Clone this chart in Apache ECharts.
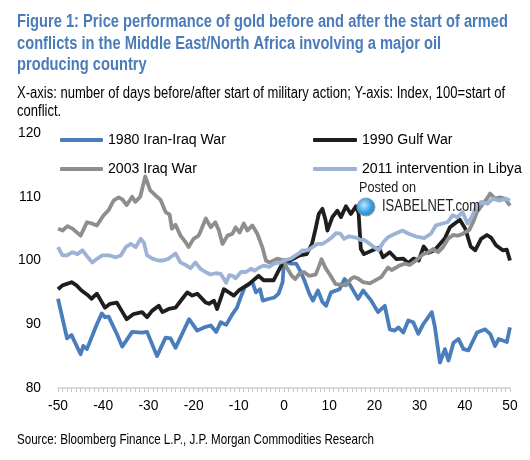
<!DOCTYPE html>
<html><head><meta charset="utf-8">
<script src="https://cdn.jsdelivr.net/npm/echarts@6/dist/echarts.min.js"></script>
<style>html,body{margin:0;padding:0;background:#fff}#c{width:530px;height:460px}</style>
</head><body><div id="c"></div>
<script>
// ---- data ----
const titleLines = ['Figure 1: Price performance of gold before and after the start of armed','conflicts in the Middle East/North Africa involving a major oil','producing country'];
const subtitleLines = ['X-axis: number of days before/after start of military action; Y-axis: Index, 100=start of','conflict.'];
const sourceText = 'Source: Bloomberg Finance L.P., J.P. Morgan Commodities Research';
const seriesNames = ['1980 Iran-Iraq War','1990 Gulf War','2003 Iraq War','2011 intervention in Libya'];

const iranDays = [-50,-48,-47,-45,-44.4,-43.6,-41.4,-40.3,-39.6,-38.8,-37,-35.8,-33.6,-31.4,-30.3,-28.1,-26.2,-25.1,-24,-21,-19.2,-17.7,-16.2,-15,-14,-12.8,-11.4,-10.4,-9.6,-8.7,-7,-6.2,-5.3,-4.7,-3.3,-2.1,-1.2,-0.3,0,1.5,2.7,3.5,4.5,5.6,6.4,7.5,8.5,9.3,10.4,12.3,13.4,14.5,16.4,17.5,19.3,20.8,22.3,23.4,24.5,25.3,26.4,27.5,28.6,29.7,30.8,32.7,33.4,34.5,35.6,36.4,37.5,38.6,39.7,40.8,42.7,44.5,45.6,46.7,47.5,49.3,50];
const iranVals = [94.0,87.8,88.3,85.3,86.6,86.1,90.0,91.7,91.1,91.2,88.5,86.5,88.8,88.7,88.8,85.0,87.9,87.8,86.3,90.8,89.0,89.5,89.8,88.8,90.3,89.9,91.6,92.6,94.2,95.8,96.6,95.0,95.5,93.7,94.0,94.2,94.8,96.6,100,99.5,99.5,98.5,96.9,94.8,93.7,95.3,93.5,92.9,95.0,95.5,97.1,96.3,94.0,95.3,93.7,91.9,92.9,89.2,89.0,89.5,88.7,90.6,90.3,88.5,90.0,91.9,89.5,84.0,86.1,84.3,87.1,87.7,86.1,85.9,88.7,89.2,88.5,86.6,87.7,87.2,89.5];

const gulfDays = [-50,-49,-47,-45.9,-44.8,-43.3,-42.6,-41.4,-39.6,-38.5,-37,-35.9,-34.8,-33.3,-31.4,-30.3,-29.2,-27.7,-26.9,-25.5,-24,-22.5,-21.4,-20.3,-19.2,-17.3,-16.6,-15.5,-14.8,-13.3,-12.2,-11.1,-10,-7.8,-5.6,-4.5,-2.3,-1.2,0,1.3,3.5,5,6.2,6.9,7.7,8.5,9.2,9.6,10.7,11.8,12.6,13.7,14.8,15.9,16.5,17,17.7,19.6,21,21.9,23.4,24.9,26.4,27.5,28.7,29.8,30.9,32,33.3,35.6,36.7,37.8,38.9,40.1,41.3,42.3,43.6,44.9,45.8,46.9,48.4,49.3,50];
const gulfVals = [95.5,96.1,96.6,96.1,95.3,94.5,94.0,94.8,92.6,93.2,93.4,92.1,90.8,91.6,91.9,91.1,92.1,92.9,91.9,92.4,92.6,94.0,95.0,94.5,94.8,93.4,93.2,93.7,92.4,95.5,95.0,94.5,95.3,96.3,97.6,96.9,96.9,98.4,100,100,100.8,101,102.6,104.7,107.3,108.1,106.3,104.7,106.8,107.8,106.8,108.5,107.3,108.5,107.5,101.8,101.0,101.6,102.0,100.5,101.3,100.2,100.3,99.6,100.3,100.0,102.2,101.2,101.6,103.5,105.2,105.8,106.4,105.0,102.2,101.6,103.4,104.0,103.6,102.4,101.6,101.7,100.0];

const iraqDays = [-50,-49,-47.9,-46.8,-45,-43.6,-42.5,-41.4,-39.9,-38.8,-37.7,-36.6,-35.8,-34.8,-33.6,-32.9,-31.8,-30.7,-29.6,-28.4,-27.3,-26.2,-25.3,-24.8,-24,-22.9,-21.8,-21.1,-20,-18.9,-18.5,-17.3,-16.2,-15.2,-14.4,-13.6,-12.5,-11.4,-10.7,-9.8,-8.9,-8.1,-7,-5.9,-4.8,-4,-3.3,-2.3,-1.5,0,0.6,1.7,2.5,3.5,4.4,5.5,7,7.8,8.3,9.2,10.3,11.4,12.5,13.7,14.8,15.5,16.3,17.5,19,20,21.5,23,23.8,24.8,25.5,26.7,27.8,29.2,30.8,32,33,34.1,35.2,36.3,37.4,38.5,39.6,41,42,42.7,43.8,44.9,45.6,46.7,47.8,48.9,50];
const iraqVals = [105.0,104.7,105.4,105.0,103.9,106.0,105.8,105.5,107.1,107.9,109.4,109.9,109.6,108.7,110.0,109.2,110.0,113.2,111.0,110.2,109.5,107.6,107.2,105.0,105.6,103.9,102.9,102.1,103.4,103.9,104.5,106.6,105.2,106.0,104.7,102.6,103.9,104.2,105.2,104.4,105.8,104.7,105.5,104.2,102.1,100.0,99.7,100.0,100.3,100,98.9,97.6,97.1,98.0,98.2,97.6,97.8,99.2,100.2,98.8,97.6,96.3,96.2,96.1,97.1,97.4,97.2,96.6,96.4,96.8,97.4,98.9,98.5,98.9,99.2,99.5,99.3,100,101.0,101.3,101.8,101.3,102.1,103.4,104.0,103.9,104.2,104.8,106.3,107.6,108.7,109.7,110.5,109.7,109.9,109.7,108.6];

const libyaDays = [-50,-49,-48,-46.8,-45.7,-44.6,-43.5,-42.4,-41.3,-40.2,-38.7,-37.2,-36.1,-35,-33.9,-32.8,-31.7,-31,-30.3,-29.1,-27.8,-26.7,-25.5,-24,-22.9,-21.8,-20.7,-19.6,-18.5,-17.4,-16.3,-15.1,-14,-12.8,-12.1,-11.4,-10.7,-9.5,-8.4,-7.3,-6.5,-5.5,-4.4,-3.3,-2.2,-0.7,0,1.5,2.6,3.3,4.1,5.2,6.3,7.4,8.5,9.6,10.7,11.5,12.5,13.3,14.4,15.9,17,17.6,19,20.9,22,23.1,24.6,26.2,27.6,29.1,31,32.5,33.6,35.1,36.2,37.3,38.4,39.5,40.6,41.5,42.5,43.6,45,46.2,47.6,49.1,50];
const libyaVals = [102.1,100.8,100.8,101.3,101.0,101.6,100.6,99.7,100.3,100.8,100.8,100.5,100.8,102.1,102.6,102.1,103.4,102.8,100.8,100.3,100.0,100.0,100.3,101.1,99.7,99.3,98.8,99.7,98.7,98.2,97.8,98.0,97.9,96.5,97.7,97.6,97.2,98.2,98.2,98.7,98.4,98.9,99.2,99.0,99.5,99.7,100,100.3,100.8,101.1,101.6,101.6,102.1,102.6,102.6,103.1,103.7,104.3,104.2,103.4,103.8,103.6,103.2,103.3,102.6,101.6,102.9,103.7,104.2,104.7,104.2,103.8,103.5,104.2,105.5,105.8,106.0,107.1,106.8,107.6,105.8,106.8,108.4,109.2,108.9,109.7,109.4,109.7,109.4];

// ---- fonts ----
const mctx = document.createElement('canvas').getContext('2d');
function hasFont(f){ mctx.font='40px monospace'; const a=mctx.measureText('mmmmwwwiiillQ').width; mctx.font='40px "'+f+'", monospace'; return mctx.measureText('mmmmwwwiiillQ').width!==a; }
const FAM = hasFont('Liberation Sans Narrow') ? 'Liberation Sans Narrow' : (hasFont('Arial Narrow') ? 'Arial Narrow' : 'Liberation Sans');
function measure(text, weight, size){ mctx.font = weight+' '+size+'px "'+FAM+'"'; return mctx.measureText(text).width; }
function fit(text, weight, target){ return 100*target/measure(text,weight,100); }
function squeeze(text, weight, size, target){ return Math.min(1, target/measure(text,weight,size)); }

const titleSize = 18, subSize = 16, srcSize = 14.5;
const titleScale = squeeze(titleLines[0],'bold',titleSize,491);
const subScale = squeeze(subtitleLines[0],'normal',subSize,488);
const srcScale = squeeze(sourceText,'normal',srcSize,357);
const legSize = (fit(seriesNames[0],'normal',118)+fit(seriesNames[3],'normal',160))/2;
const axSize = fit('120','normal',23);
const postSize = 15, postScale = squeeze('Posted on','normal',postSize,57);
const isaSize = 16.5, isaScale = squeeze('ISABELNET.com','normal',isaSize,98);

const colors = ['#4a7dbb','#1e1e1e','#8e8e8e','#9cb3d6'];
const pairs = (d,v)=>d.map((x,i)=>[x,v[i]]);
const allData = [pairs(iranDays,iranVals),pairs(gulfDays,gulfVals),pairs(iraqDays,iraqVals),pairs(libyaDays,libyaVals)];

function txt(text, x, y, size, weight, color, scale, lh){
  return {type:'text', x:x, y:y, scaleX:scale, originX:0, originY:0, z:100, silent:true,
    style:{text:text, fontFamily:FAM, fontSize:size, fontWeight:weight, fill:color, lineHeight:lh||size*1.2, verticalAlign:'top', align:'left'}};
}

const chart = echarts.init(document.getElementById('c'), null, {renderer:'canvas'});
chart.setOption({
  animation:false,
  backgroundColor:'#fff',
  legend:[
    {data:[seriesNames[0],seriesNames[2]], orient:'vertical', left:60, top:130, padding:0,
     itemWidth:43, itemHeight:4, itemGap:9, icon:'roundRect', selectedMode:false,
     textStyle:{fontFamily:FAM, fontSize:legSize, color:'#000', lineHeight:20}},
    {data:[seriesNames[1],seriesNames[3]], orient:'vertical', left:313, top:130, padding:0,
     itemWidth:44, itemHeight:4, itemGap:9, icon:'roundRect', selectedMode:false,
     textStyle:{fontFamily:FAM, fontSize:legSize, color:'#000', lineHeight:20}}
  ],
  grid:{left:58, right:20, top:133, bottom:72, containLabel:false},
  xAxis:{type:'value', min:-50, max:50, interval:10,
    axisLine:{show:true, lineStyle:{color:'#d0d0d0', width:1.5}},
    axisTick:{show:true, length:4, lineStyle:{color:'#c8c8c8'}},
    minorTick:{show:true, splitNumber:10, length:4, lineStyle:{color:'#c8c8c8'}},
    splitLine:{show:false},
    axisLabel:{color:'#000', fontFamily:FAM, fontSize:axSize, margin:11}},
  yAxis:{type:'value', min:80, max:120, interval:10,
    axisLine:{show:false}, axisTick:{show:false}, splitLine:{show:false},
    axisLabel:{color:'#000', fontFamily:FAM, fontSize:axSize, margin:17}},
  series: seriesNames.map((n,i)=>({name:n, type:'line', data:allData[i], showSymbol:false, symbol:'none',
    color:colors[i], lineStyle:{width:3.8, color:colors[i], join:'round'}, z:2+i})),
  graphic:[
    txt(titleLines.join('\n'), 17, 11.75, titleSize, 'bold', '#4a7cb9', titleScale, 21.5),
    txt(subtitleLines.join('\n'), 17, 85.25, subSize, 'normal', '#000', subScale, 17.5),
    txt(sourceText, 17, 431, srcSize, 'normal', '#000', srcScale, 18),
    txt('Posted on', 359, 179, postSize, 'normal', '#222', postScale, 18),
    {type:'circle', shape:{cx:366, cy:207, r:9}, z:100, silent:true,
      style:{fill:new echarts.graphic.RadialGradient(0.4,0.4,0.7,[{offset:0,color:'#bfe6ff'},{offset:0.6,color:'#2a9be0'},{offset:1,color:'#6c7f8f'}]), stroke:'#8aa0b0', lineWidth:1}},
    txt('ISABELNET.com', 382, 196.5, isaSize, 'normal', '#222', isaScale, 19)
  ]
});
</script></body></html>
